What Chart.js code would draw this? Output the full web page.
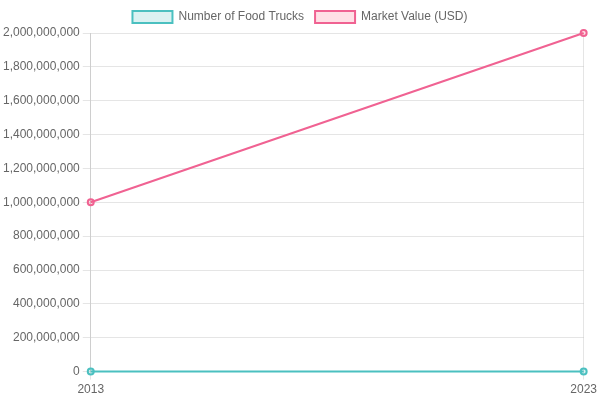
<!DOCTYPE html>
<html>
<head>
<meta charset="utf-8">
<script src="https://cdn.jsdelivr.net/npm/chart.js@4"></script>
<style>
  html, body { margin: 0; padding: 0; background: #fff; }
  #wrap { width: 600px; height: 400px; }
</style>
</head>
<body>
<div id="wrap"><canvas id="chart"></canvas></div>
<script>
// data
var years = ['2013', '2023'];
var foodTrucks = [3000, 24000];
var marketValue = [1000000000, 2000000000];

var teal = 'rgb(75, 192, 192)';
var pink = 'rgb(240, 98, 146)';

new Chart(document.getElementById('chart'), {
	type: 'line',
	data: {
		labels: years,
		datasets: [{
			label: 'Number of Food Trucks',
			data: foodTrucks,
			borderColor: teal,
			backgroundColor: 'rgba(75, 192, 192, 0.2)',
			borderWidth: 2,
			pointRadius: 3,
			tension: 0,
			clip: false
		}, {
			label: 'Market Value (USD)',
			data: marketValue,
			borderColor: pink,
			backgroundColor: 'rgba(255, 99, 132, 0.2)',
			borderWidth: 2,
			pointRadius: 3,
			tension: 0,
			clip: false
		}]
	},
	options: {
		responsive: true,
		maintainAspectRatio: false,
		animation: false,
		plugins: {
			legend: { position: 'top', labels: { padding: 11 } },
			tooltip: { enabled: false }
		},
		scales: {
			y: {
				beginAtZero: true,
				max: 2000000000,
				ticks: { stepSize: 200000000 }
			}
		}
	}
});
</script>
</body>
</html>
